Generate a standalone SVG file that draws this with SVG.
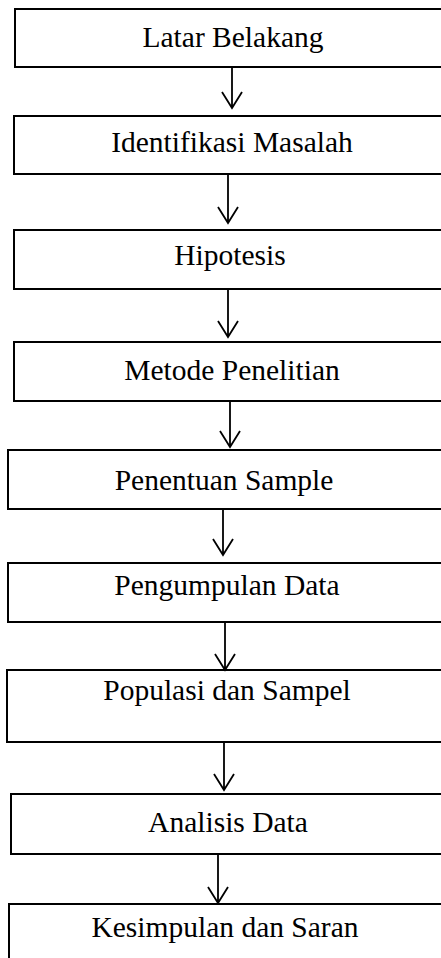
<svg xmlns="http://www.w3.org/2000/svg" width="441" height="958" viewBox="0 0 441 958">
  <style>
    .box { fill: #ffffff; stroke: #000000; stroke-width: 2; }
    .label { font-family: "Liberation Serif", "Times New Roman", serif; font-size: 29.5px; fill: #000000; text-anchor: middle; }
    .link { fill: none; stroke: #000000; stroke-width: 1.8; }
  </style>
  <rect x="0" y="0" width="441" height="958" fill="#ffffff"/>

  <g id="n1"><rect class="box" x="15" y="9" width="440" height="58"/><text class="label" x="233" y="47">Latar Belakang</text></g>
  <g id="n2"><rect class="box" x="14" y="116" width="440" height="58"/><text class="label" x="232" y="152">Identifikasi Masalah</text></g>
  <g id="n3"><rect class="box" x="14" y="230" width="440" height="59"/><text class="label" x="230" y="265">Hipotesis</text></g>
  <g id="n4"><rect class="box" x="14" y="342" width="440" height="59"/><text class="label" x="232" y="380">Metode Penelitian</text></g>
  <g id="n5"><rect class="box" x="8" y="450" width="440" height="59"/><text class="label" x="224" y="490">Penentuan Sample</text></g>
  <g id="n6"><rect class="box" x="8" y="563" width="440" height="59"/><text class="label" x="227" y="595">Pengumpulan Data</text></g>
  <g id="n7"><rect class="box" x="7" y="670" width="440" height="72"/><text class="label" x="227" y="700">Populasi dan Sampel</text></g>
  <g id="n8"><rect class="box" x="11" y="794" width="440" height="60"/><text class="label" x="228" y="832">Analisis Data</text></g>
  <g id="n9"><rect class="box" x="9" y="904" width="440" height="70"/><text class="label" x="225" y="937">Kesimpulan dan Saran</text></g>

  <g id="connectors">
    <path class="link" d="M232 67 V108 M222 92 L232 108 L242 92"/>
    <path class="link" d="M228 174 V223 M218 207 L228 223 L238 207"/>
    <path class="link" d="M228 289 V337 M218 321 L228 337 L238 321"/>
    <path class="link" d="M230 401 V447 M220 431 L230 447 L240 431"/>
    <path class="link" d="M223 509 V555 M213 539 L223 555 L233 539"/>
    <path class="link" d="M225 622 V670 M215 654 L225 670 L235 654"/>
    <path class="link" d="M224 742 V790 M214 774 L224 790 L234 774"/>
    <path class="link" d="M218 854 V903 M208 887 L218 903 L228 887"/>
  </g>
</svg>
